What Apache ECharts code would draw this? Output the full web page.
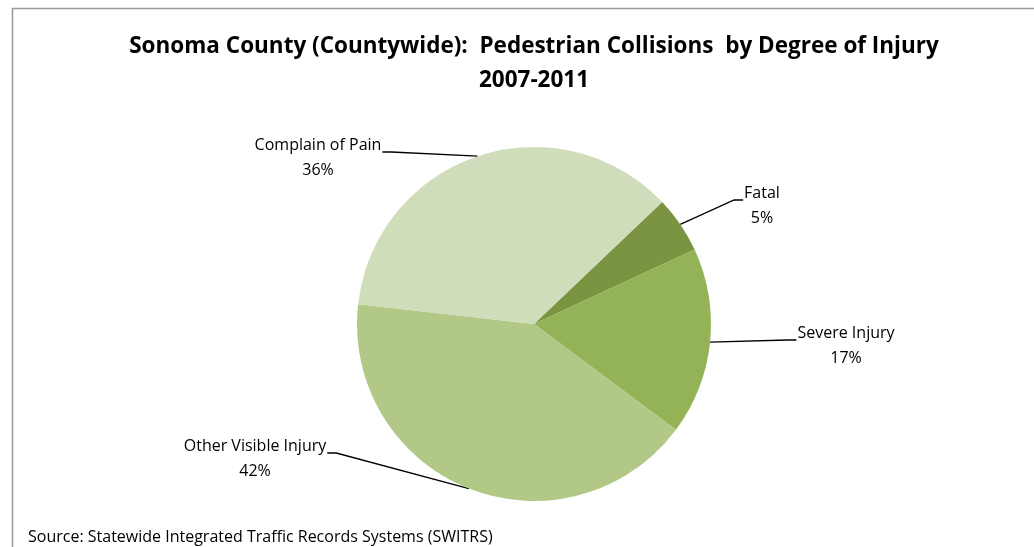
<!DOCTYPE html>
<html>
<head>
<meta charset="utf-8">
<script src="https://cdn.jsdelivr.net/npm/echarts@6/dist/echarts.min.js"></script>
<style>
html,body{margin:0;padding:0;background:#fff;}
#chart{width:1034px;height:547px;}
</style>
</head>
<body>
<div id="chart"></div>
<script>
// ---- data ----
const titleLine1 = 'Sonoma County (Countywide):  Pedestrian Collisions  by Degree of Injury';
const titleLine2 = '2007-2011';
const sourceText = 'Source: Statewide Integrated Traffic Records Systems (SWITRS)';
const categories = ['Fatal', 'Severe Injury', 'Other Visible Injury', 'Complain of Pain'];
const shares = [5.2, 17.1, 41.6, 36.1];
const colors = ['#7A9441', '#94B256', '#B2C886', '#D0DDBA'];

// label placement (centre x, top y) — layout only
const labelPos = [
  {x: 762, y: 181, side: 'right'},
  {x: 846, y: 321, side: 'right'},
  {x: 255, y: 434, side: 'left'},
  {x: 318, y: 133, side: 'left'}
];

const chart = echarts.init(document.getElementById('chart'), null, {renderer: 'canvas'});
const fontFam = '"Open Sans", "Noto Sans", sans-serif';

chart.setOption({
  backgroundColor: '#ffffff',
  animation: false,
  graphic: [
    {type: 'rect', shape: {x: 12.5, y: 8.5, width: 1100, height: 600}, style: {fill: 'none', stroke: '#9a9a9a', lineWidth: 1.5}, silent: true}
  ],
  title: [
    {text: titleLine1 + '\n' + titleLine2, left: 529, top: 25, textAlign: 'center',
     textStyle: {fontFamily: fontFam, fontWeight: 'bold', fontSize: 22.5, color: '#000', lineHeight: 34}},
    {text: sourceText, left: 23, top: 524,
     textStyle: {fontFamily: fontFam, fontWeight: 'normal', fontSize: 16, color: '#000'}}
  ],
  series: [{
    type: 'pie',
    center: [534, 324],
    radius: 177,
    startAngle: 43.6,
    clockwise: true,
    percentPrecision: 0,
    data: categories.map((c, i) => ({name: c, value: shares[i], itemStyle: {color: colors[i]}})),
    label: {
      show: true,
      formatter: '{b}\n{d}%',
      fontFamily: fontFam,
      fontSize: 16,
      lineHeight: 25,
      color: '#000',
      align: 'center'
    },
    labelLine: {show: true, length: 10, length2: 10, smooth: false, lineStyle: {color: '#000', width: 1.3}},
    labelLayout: function (params) {
      const p = labelPos[params.dataIndex];
      const w = params.labelRect.width;
      const start = params.labelLinePoints ? params.labelLinePoints[0] : null;
      const ly = p.y + 19;
      let endX, midX;
      if (p.side === 'right') { endX = p.x - w / 2 - 1; midX = endX - 9; }
      else { endX = p.x + w / 2 + 1; midX = endX + 9; }
      const out = {x: p.x, y: p.y, align: 'center', verticalAlign: 'top'};
      if (start) out.labelLinePoints = [start, [midX, ly], [endX, ly]];
      return out;
    },
    emphasis: {disabled: true}
  }]
});
</script>
</body>
</html>
